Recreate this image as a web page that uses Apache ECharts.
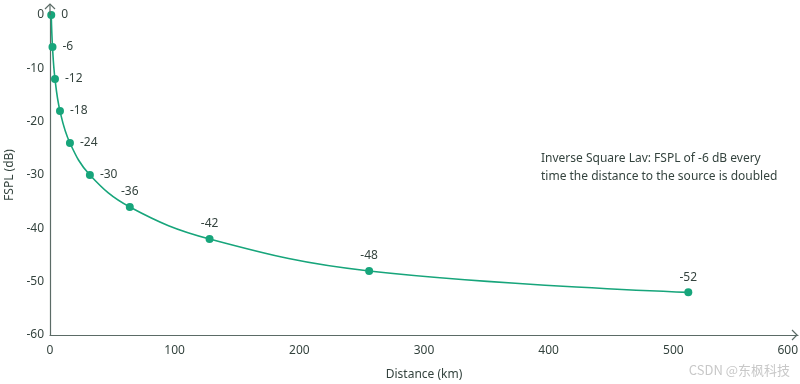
<!DOCTYPE html>
<html><head><meta charset="utf-8">
<script src="https://cdn.jsdelivr.net/npm/echarts@6/dist/echarts.min.js"></script>
<style>html,body{margin:0;padding:0;background:#fff}#c{width:800px;height:384px}</style>
</head><body><div id="c"></div>
<script>
const distances = [1, 2, 4, 8, 16, 32, 64, 128, 256, 512];
const fspl = [0, -6, -12, -18, -24, -30, -36, -42, -48, -52];
const labelSide = ['right','right','right','right','right','right','top','top','top','top'];
const xTicks = {min: 0, max: 600, interval: 100};
const yTicks = {min: -60, max: 0, interval: 10};
const annotation = ['Inverse Square Lav: FSPL of -6 dB every', 'time the distance to the source is doubled'];

const axisColor = '#5b6b66';
const textColor = '#34433e';
const green = '#17a57b';
const font = 'Noto Sans';

const chart = echarts.init(document.getElementById('c'));
const option = {
  backgroundColor: '#fff',
  animation: false,
  textStyle: {fontFamily: font},
  grid: {left: 50, right: 2, top: 15, bottom: 49, containLabel: false, outerBoundsMode: 'none'},
  xAxis: {
    type: 'value', min: xTicks.min, max: xTicks.max, interval: xTicks.interval,
    name: 'Distance (km)', nameLocation: 'middle', nameGap: 34,
    nameTextStyle: {color: textColor, fontSize: 12, fontFamily: font},
    axisLine: {show: true, onZero: false, lineStyle: {color: axisColor, width: 1.2}},
    axisTick: {show: false},
    splitLine: {show: false},
    axisLabel: {color: textColor, fontSize: 12, margin: 10, fontFamily: font, alignMaxLabel: 'right'}
  },
  yAxis: {
    type: 'value', min: yTicks.min, max: yTicks.max, interval: yTicks.interval,
    name: 'FSPL (dB)', nameLocation: 'middle', nameGap: 30, nameRotate: 90,
    nameTextStyle: {color: textColor, fontSize: 12, fontFamily: font},
    axisLine: {show: true, onZero: false, lineStyle: {color: axisColor, width: 1.2}},
    axisTick: {show: false},
    splitLine: {show: false},
    axisLabel: {color: textColor, fontSize: 12, margin: 6, fontFamily: font}
  },
  series: [{
    type: 'line',
    smooth: 0.4,
    data: distances.map((d, i) => ({
      value: [d, fspl[i]],
      label: {position: labelSide[i], distance: labelSide[i] === 'right' ? 6 : 5}
    })),
    symbol: 'circle', symbolSize: 8,
    lineStyle: {color: green, width: 1.6},
    itemStyle: {color: green},
    label: {show: true, color: textColor, fontSize: 12, fontFamily: font, formatter: p => String(p.value[1])}
  }],
  graphic: []
};
chart.setOption(option);

// axis-end chevrons, positioned from the axes themselves
const origin = chart.convertToPixel({gridIndex: 0}, [xTicks.min, yTicks.min]);
const topEnd = chart.convertToPixel({gridIndex: 0}, [xTicks.min, yTicks.max]);
const rightEnd = chart.convertToPixel({gridIndex: 0}, [xTicks.max, yTicks.min]);
const yx = origin[0], yTop = topEnd[1] - 11;
const xy = origin[1], xRight = rightEnd[0] - 1;
chart.setOption({graphic: [
  {type: 'polyline', z: 100, shape: {points: [[yx, topEnd[1]], [yx, yTop]]}, style: {stroke: axisColor, lineWidth: 1.2, fill: null}},
  {type: 'polyline', z: 100, shape: {points: [[yx - 5, yTop + 5], [yx, yTop], [yx + 5, yTop + 5]]}, style: {stroke: axisColor, lineWidth: 1.2, fill: null}},
  {type: 'polyline', z: 100, shape: {points: [[xRight - 5, xy - 5], [xRight, xy], [xRight - 5, xy + 5]]}, style: {stroke: axisColor, lineWidth: 1.2, fill: null}},
  {type: 'text', left: 541, top: 150, style: {text: annotation.join('\n'), fill: textColor, font: '12px "Noto Sans"', lineHeight: 18}},
  {type: 'text', right: 10, top: 364, style: {text: 'CSDN @东枫科技', fill: '#c8c8c8', font: '13px "Noto Sans CJK SC"'}}
]});
</script></body></html>
